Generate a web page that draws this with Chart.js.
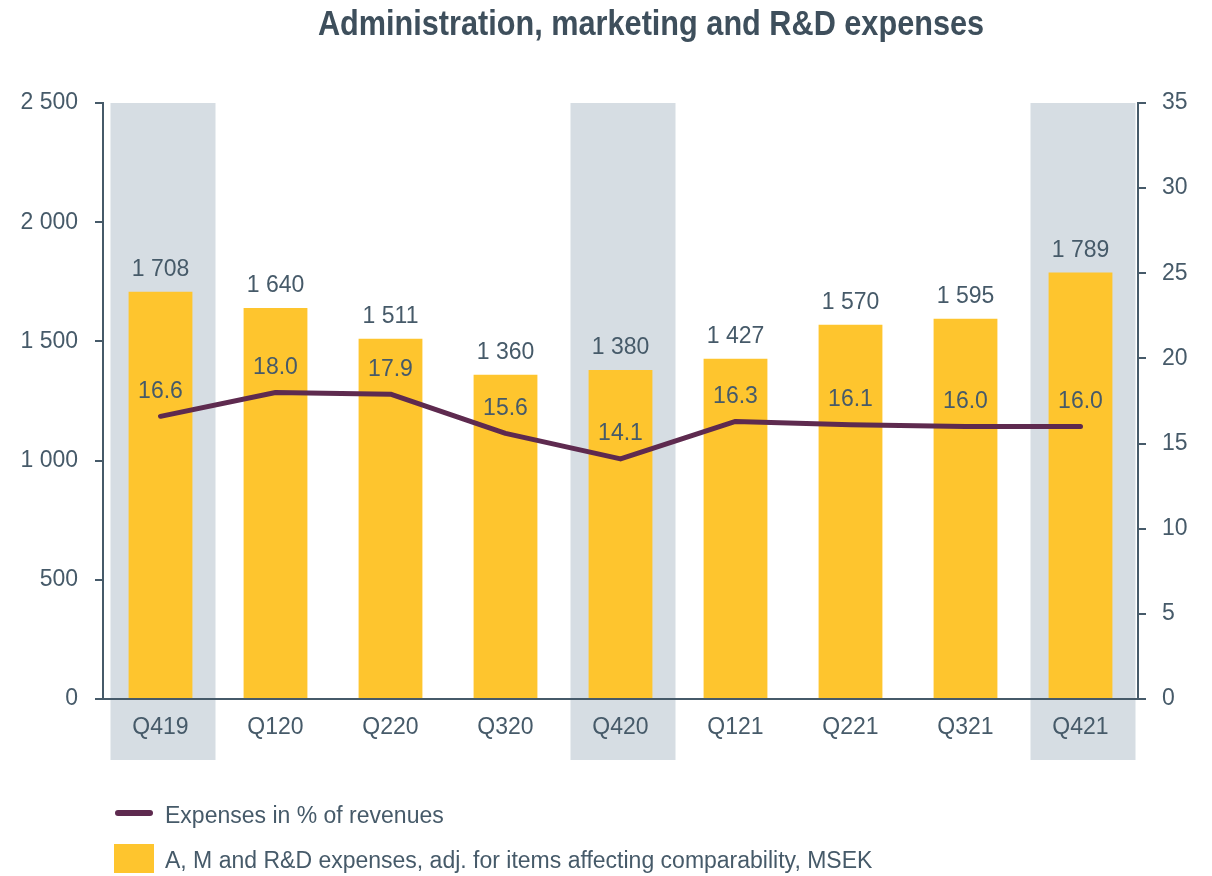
<!DOCTYPE html>
<html>
<head>
<meta charset="utf-8">
<script src="https://cdn.jsdelivr.net/npm/chart.js@4/dist/chart.umd.min.js"></script>
<style>
  html, body { margin:0; padding:0; background:#ffffff; }
  #wrap { position:relative; width:1212px; height:876px; overflow:hidden; }
  #c { position:absolute; left:0; top:0; }
  #title { position:absolute; left:0; top:3px; width:1302px; text-align:center; line-height:40px;
           font-family:"Liberation Sans",Arial,sans-serif;
           font-weight:bold; font-size:35px; color:#3e4f5c;
           transform:scaleX(0.876); transform-origin:651px 50%; white-space:nowrap; }
  .leg { position:absolute; font-family:"Liberation Sans",Arial,sans-serif; font-size:23px; color:#465a69; line-height:30px; white-space:nowrap; }
  .sw { position:absolute; }
</style>
</head>
<body>
<div id="wrap">
  <canvas id="c" width="1212" height="876"></canvas>
  <div id="title">Administration, marketing and R&amp;D expenses</div>
  <div class="sw" style="left:115px;top:810px;width:38px;height:6px;border-radius:3px;background:#5e2a4f;"></div>
  <div class="leg" style="left:165px;top:800px;">Expenses in % of revenues</div>
  <div class="sw" style="left:114px;top:844px;width:40px;height:29px;background:#fec52e;"></div>
  <div class="leg" style="left:165px;top:845px;">A, M and R&amp;D expenses, adj. for items affecting comparability, MSEK</div>
</div>
<script>
const categories = ["Q419","Q120","Q220","Q320","Q420","Q121","Q221","Q321","Q421"];
const expensesMSEK = [1708, 1640, 1511, 1360, 1380, 1427, 1570, 1595, 1789];
const expensesPct = [16.6, 18.0, 17.9, 15.6, 14.1, 16.3, 16.1, 16.0, 16.0];
const highlighted = ["Q419","Q420","Q421"];
const leftTicks = [0, 500, 1000, 1500, 2000, 2500];
const rightTicks = [0, 5, 10, 15, 20, 25, 30, 35];

const TEXT = "#465a69";
const AXIS = "#465a69";
const FONT = "'Liberation Sans', Arial, sans-serif";

function fmtThousands(v) {
  return String(v).replace(/\B(?=(\d{3})+(?!\d))/g, " ");
}

const bandPlugin = {
  id: "bands",
  beforeDraw(chart) {
    const ctx = chart.ctx;
    const xs = chart.scales.x;
    const top = chart.chartArea.top;
    ctx.save();
    ctx.fillStyle = "#d6dde3";
    highlighted.forEach(cat => {
      const i = categories.indexOf(cat);
      const cx = xs.getPixelForValue(i) + 2.5;
      const w = 105;
      ctx.fillRect(cx - w / 2, top, w, 760 - top);
    });
    ctx.restore();
  }
};

const labelPlugin = {
  id: "vlabels",
  afterDatasetsDraw(chart) {
    const ctx = chart.ctx;
    ctx.save();
    ctx.font = "23px " + FONT;
    ctx.fillStyle = TEXT;
    ctx.textAlign = "center";
    ctx.textBaseline = "middle";
    const barMeta = chart.getDatasetMeta(1);
    barMeta.data.forEach((el, i) => {
      ctx.fillText(fmtThousands(expensesMSEK[i]), el.x, el.y - 22);
    });
    const lineMeta = chart.getDatasetMeta(0);
    lineMeta.data.forEach((el, i) => {
      ctx.fillText(expensesPct[i].toFixed(1), el.x, el.y - 25);
    });
    ctx.restore();
  }
};

new Chart(document.getElementById("c"), {
  data: {
    labels: categories,
    datasets: [
      {
        type: "line",
        label: "Expenses in % of revenues",
        data: expensesPct,
        yAxisID: "y2",
        borderColor: "#5e2a4f",
        borderWidth: 5,
        borderCapStyle: "round",
        borderJoinStyle: "round",
        pointRadius: 0,
        tension: 0,
        order: 0
      },
      {
        type: "bar",
        label: "A, M and R&D expenses, adj. for items affecting comparability, MSEK",
        data: expensesMSEK,
        yAxisID: "y",
        backgroundColor: "#fec52e",
        barPercentage: 0.555,
        categoryPercentage: 1.0,
        order: 1
      }
    ]
  },
  options: {
    responsive: false,
    devicePixelRatio: 1,
    animation: false,
    layout: { padding: { top: 103, bottom: 0, left: 0, right: 0 } },
    plugins: {
      legend: { display: false },
      tooltip: { enabled: false },
      title: { display: false }
    },
    scales: {
      x: {
        position: "bottom",
        grid: { display: false, drawTicks: false },
        border: { display: true, color: AXIS, width: 2 },
        ticks: { color: TEXT, font: { size: 23, family: FONT }, padding: 15, maxRotation: 0 },
        afterFit(s) { s.height = 876 - 699; }
      },
      y: {
        position: "left",
        min: 0, max: 2500,
        afterBuildTicks(s) { s.ticks = leftTicks.map(v => ({ value: v })); },
        grid: { drawOnChartArea: false, drawTicks: true, tickLength: 8, color: AXIS, lineWidth: 2 },
        border: { display: true, color: AXIS, width: 2 },
        ticks: { color: TEXT, font: { size: 23, family: FONT }, padding: 17,
                 callback: v => fmtThousands(v) },
        afterFit(s) { s.width = 103; }
      },
      y2: {
        position: "right",
        min: 0, max: 35,
        afterBuildTicks(s) { s.ticks = rightTicks.map(v => ({ value: v })); },
        grid: { drawOnChartArea: false, drawTicks: true, tickLength: 8, color: AXIS, lineWidth: 2 },
        border: { display: true, color: AXIS, width: 2 },
        ticks: { color: TEXT, font: { size: 23, family: FONT }, padding: 16 },
        afterFit(s) { s.width = 1212 - 1138; }
      }
    }
  },
  plugins: [bandPlugin, labelPlugin]
});
</script>
</body>
</html>
